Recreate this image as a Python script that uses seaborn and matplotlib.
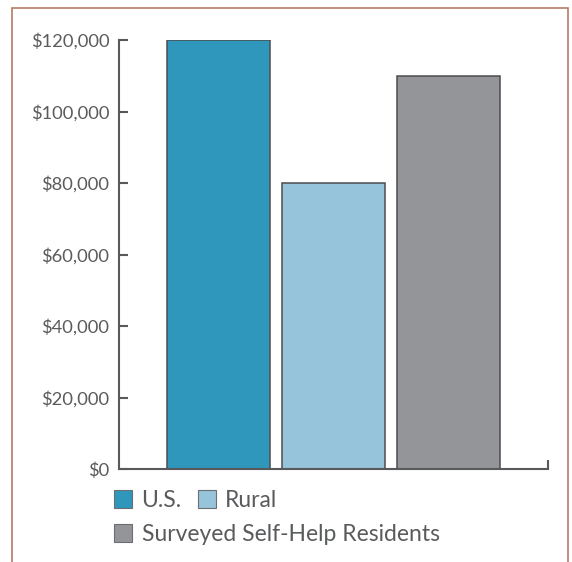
import matplotlib
matplotlib.use("Agg")
import matplotlib.pyplot as plt
from matplotlib.patches import Patch, Rectangle
import seaborn as sns
import pandas as pd

# Median household income comparison
groups = ["U.S.", "Rural", "Surveyed Self-Help Residents"]
incomes = [120000, 80000, 110000]
colors = ["#2f97bb", "#96c4da", "#939598"]
tick_values = [0, 20000, 40000, 60000, 80000, 100000, 120000]
tick_labels = ["$0", "$20,000", "$40,000", "$60,000", "$80,000", "$100,000", "$120,000"]

sns.set_theme(style="white")
plt.rcParams["font.family"] = ["Lato", "DejaVu Sans"]
text_color = "#5a5b5d"
axis_color = "#58595b"

df = pd.DataFrame({"group": groups, "income": incomes})

fig = plt.figure(figsize=(5.72, 5.62), dpi=100)
ax = fig.add_axes([119 / 572, 1 - 469 / 562, (548 - 119) / 572, (469 - 40) / 562])

sns.barplot(data=df, x="group", y="income", hue="group", palette=colors,
            order=groups, hue_order=groups, width=0.9, legend=False,
            edgecolor="#4d4d4f", linewidth=1.1, saturation=1, ax=ax)

ax.set_xlim(-0.865, 2.865)
ax.set_ylim(0, 120000)
ax.set_yticks(tick_values, tick_labels)
ax.set_xticks([2.865], [""])
ax.set_xlabel("")
ax.set_ylabel("")

for side in ("top", "right"):
    ax.spines[side].set_visible(False)
for side in ("left", "bottom"):
    ax.spines[side].set_color(axis_color)
    ax.spines[side].set_linewidth(1.5)

ax.tick_params(axis="y", direction="in", length=6.5, width=1.5, color=axis_color,
               pad=7, labelsize=13.2, labelcolor=text_color, left=True)
ax.tick_params(axis="x", direction="in", length=6.5, width=1.5, color=axis_color,
               bottom=True)

# Legend: first row with two entries, second row with one
handles = [Patch(facecolor=c, edgecolor="#6d6e71", linewidth=0.8) for c in colors]
leg_kw = dict(frameon=False, fontsize=16.5, labelcolor=text_color, handlelength=0.8,
              handleheight=0.8, handletextpad=0.4, columnspacing=0.7,
              borderaxespad=0, borderpad=0)
leg1 = fig.legend(handles[:2], groups[:2], ncol=2, loc="upper left",
                  bbox_to_anchor=(114 / 572, 1 - 490 / 562), **leg_kw)
leg2 = fig.legend(handles[2:], groups[2:], ncol=1, loc="upper left",
                  bbox_to_anchor=(114 / 572, 1 - 524 / 562), **leg_kw)

# Page frame
fig.patches.append(Rectangle((12 / 572, -0.1), (568 - 12) / 572, 1.1 - 8 / 562,
                             transform=fig.transFigure, fill=False,
                             edgecolor="#b57a66", linewidth=1.2))

fig.savefig("out.png", dpi=100)
